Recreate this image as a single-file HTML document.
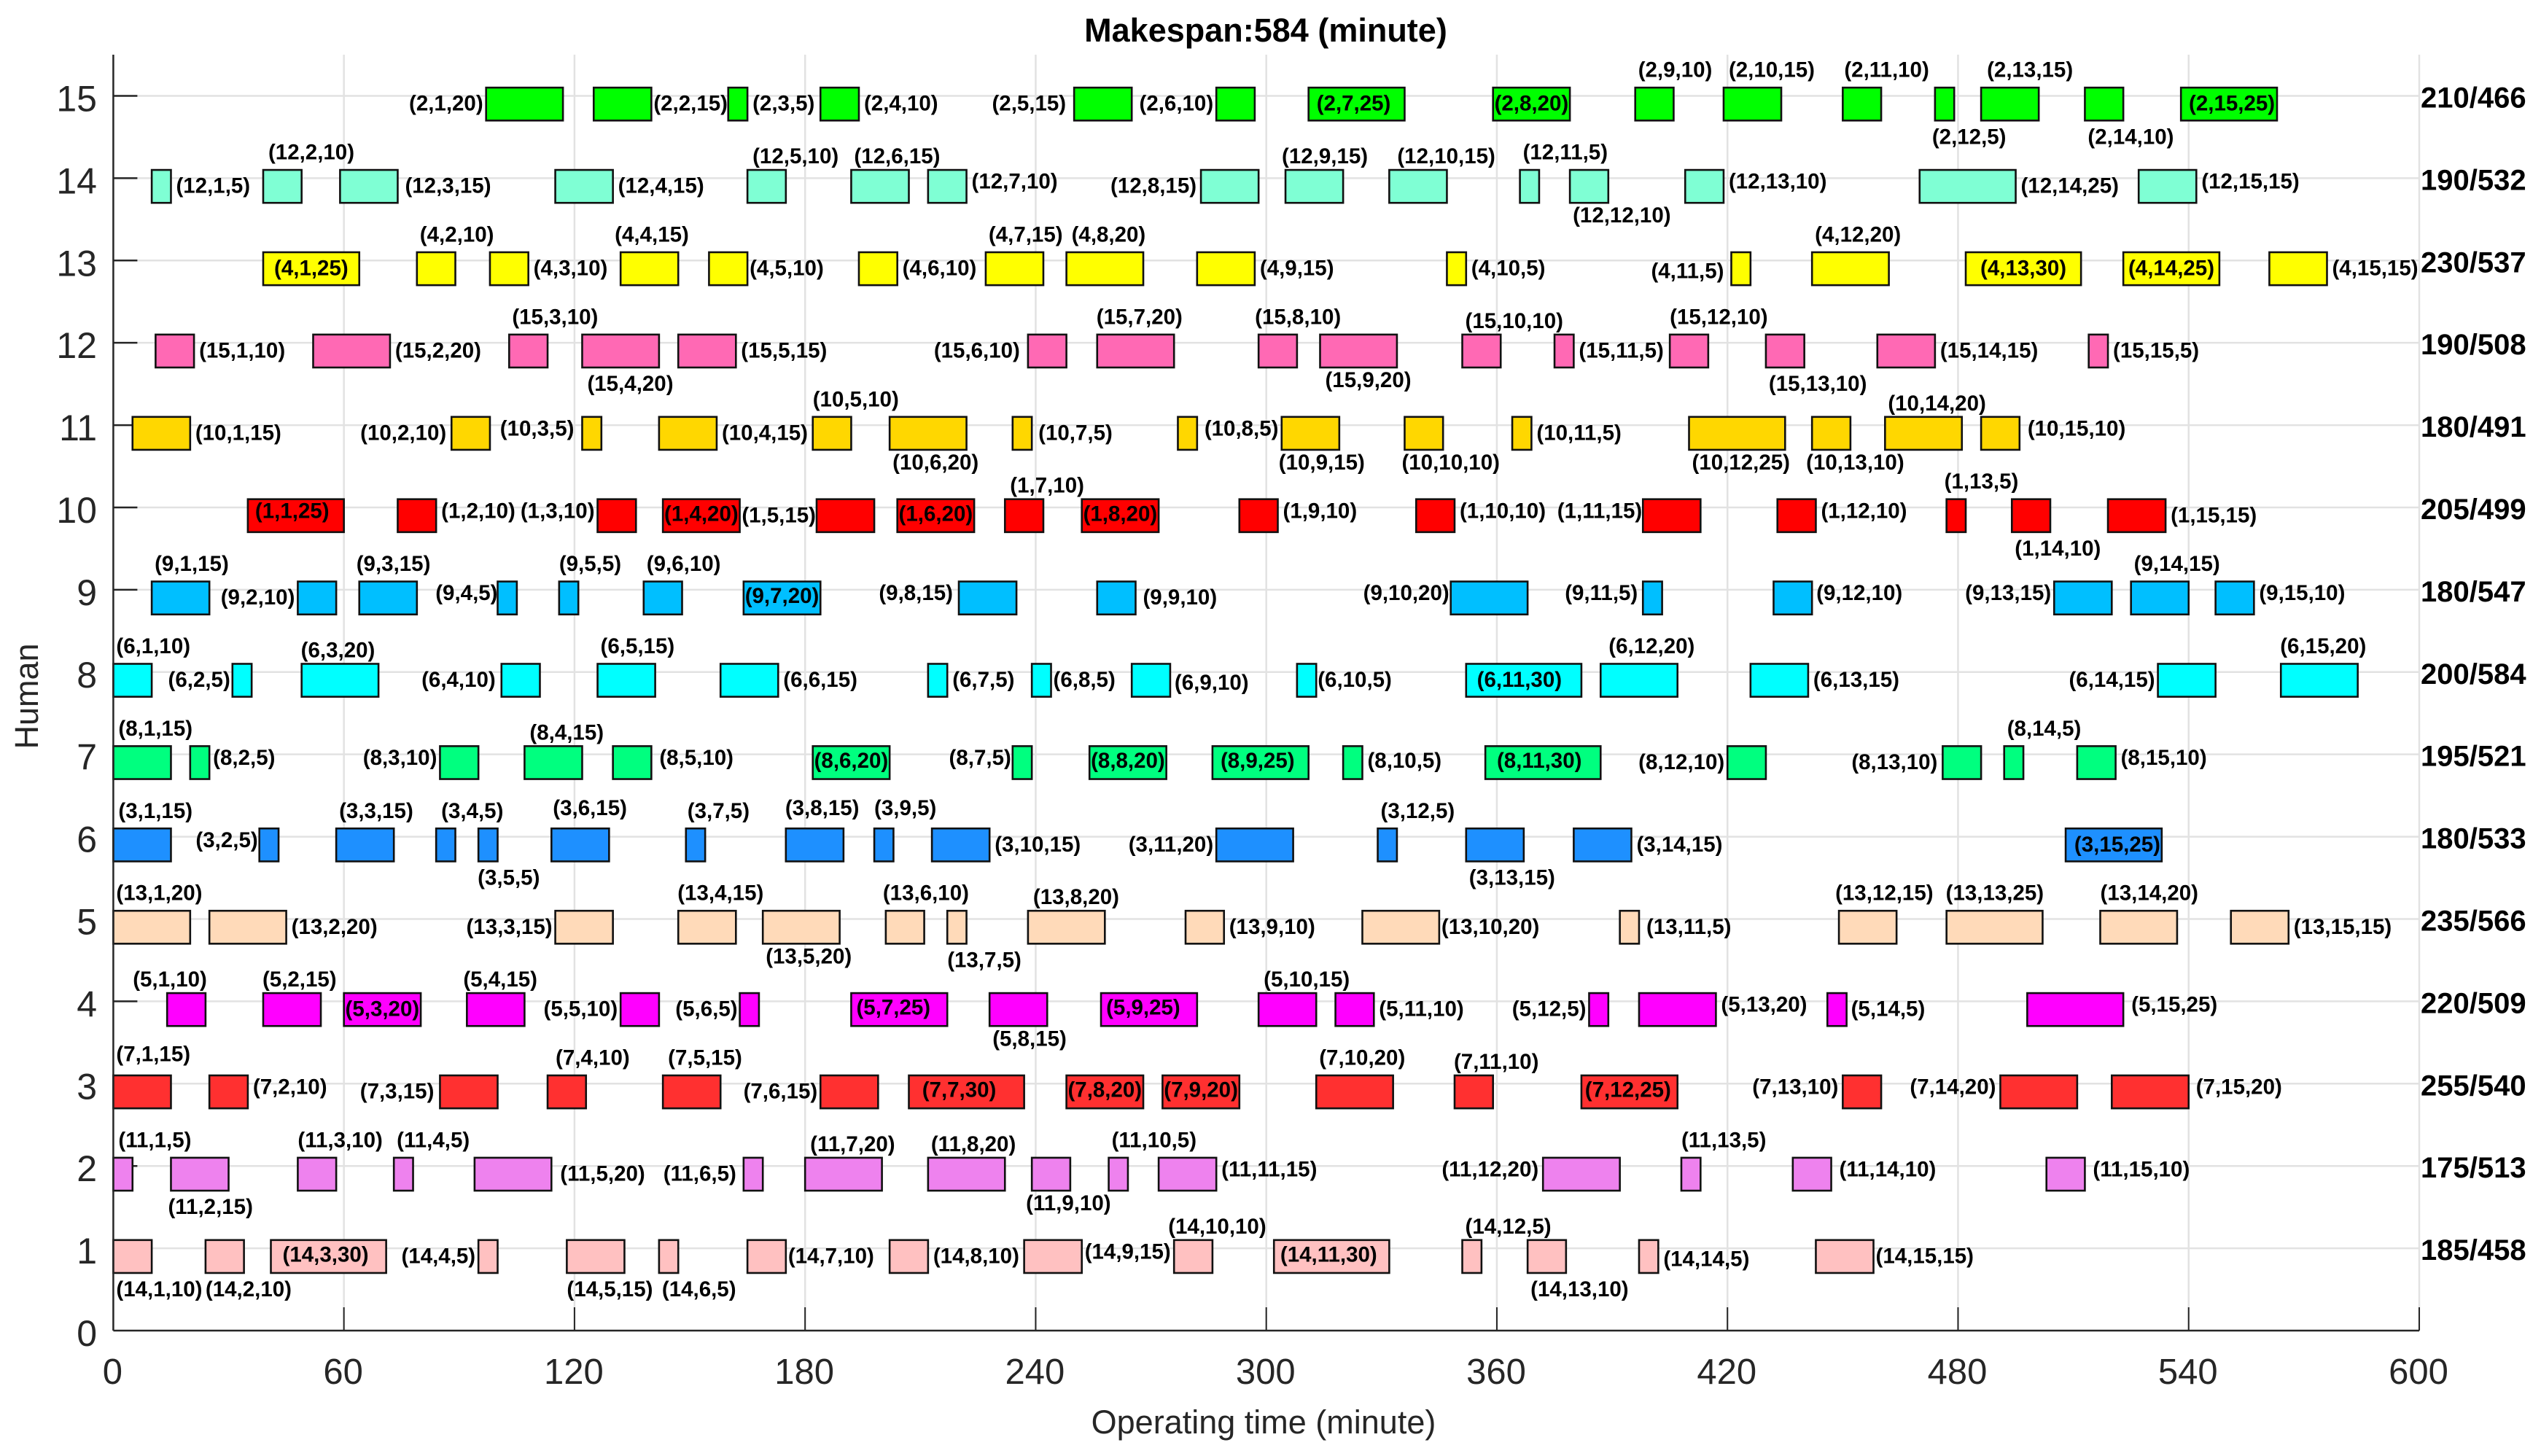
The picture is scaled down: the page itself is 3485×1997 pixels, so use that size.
<!DOCTYPE html>
<html lang="en">
<head>
<meta charset="utf-8">
<title>Makespan Gantt chart</title>
<style>
html,body{margin:0;padding:0;background:#fff;width:3485px;height:1997px;overflow:hidden}
svg{display:block}
text{font-family:"Liberation Sans",Arial,sans-serif}
</style>
</head>
<body>
<svg id="chart" xmlns="http://www.w3.org/2000/svg" width="3485" height="1997" viewBox="0 0 3485 1997">
<rect x="0" y="0" width="3485" height="1997" fill="#ffffff"/>
<g id="grid"></g>
<g id="ticks"></g>
<g id="bars"></g>
<g id="axes"></g>
<g id="labels"></g>
<g id="summary"></g>
<g id="ticklabels"></g>
<text x="1736" y="57" text-anchor="middle" font-size="45" font-weight="bold" fill="#000">Makespan:584 (minute)</text>
<text x="1733" y="1966" text-anchor="middle" font-size="45" fill="#262626">Operating time (minute)</text>
<text transform="translate(52,955) rotate(-90)" text-anchor="middle" font-size="45" fill="#262626">Human</text>
</svg>
<script>
// Row index 0 is y = 1, the bottom row of the chart.
const humanIds = [14, 11, 7, 5, 13, 3, 8, 6, 9, 1, 10, 15, 4, 12, 2];
const rowSummaries = ['185/458','175/513','255/540','220/509','235/566','180/533','195/521','200/584','180/547','205/499','180/491','190/508','230/537','190/532','210/466'];
const rowColors = ['#FFC1C1','#EE82EE','#FF3030','#FF00FF','#FFDAB9','#1E90FF','#00FF7F','#00FFFF','#00BFFF','#FF0000','#FFD700','#FF69B4','#FFFF00','#7FFFD4','#00FF00'];
const startTimes = [
  [0,24,41,95,118,142,165,202,237,276,302,351,368,397,443],
  [0,15,48,73,94,164,180,212,239,259,272,372,408,437,503],
  [0,25,85,113,143,184,207,248,273,313,349,382,450,491,520],
  [14,39,60,92,132,163,192,228,257,298,318,384,397,446,498],
  [0,25,115,147,169,201,217,238,279,325,392,449,477,517,551],
  [0,38,58,84,95,114,149,175,198,213,287,329,352,380,508],
  [0,20,85,107,130,182,234,254,286,320,357,420,476,492,511],
  [0,31,49,101,126,158,212,239,265,308,352,387,426,532,564],
  [10,48,64,100,116,138,164,220,256,348,398,432,505,525,547],
  [35,74,126,143,183,204,232,252,293,339,398,433,477,494,519],
  [5,88,122,142,182,202,234,277,304,336,364,410,442,461,486],
  [11,52,103,122,147,238,256,298,314,351,375,405,430,459,514],
  [39,79,98,132,155,194,227,248,282,347,421,442,482,523,561],
  [10,39,59,115,165,192,212,283,305,332,366,379,409,470,527],
  [97,125,160,184,250,287,311,359,396,419,450,474,486,513,538]
];
const durations = [
  [10,10,30,5,15,5,10,10,15,10,30,5,10,5,15],
  [5,15,10,5,20,5,20,20,10,5,15,20,5,10,10],
  [15,10,15,10,15,15,30,20,20,20,10,25,10,20,20],
  [10,15,20,15,10,5,25,15,25,15,10,5,20,5,25],
  [20,20,15,15,20,10,5,20,10,20,5,15,25,20,15],
  [15,5,15,5,5,15,5,15,5,15,20,5,15,15,25],
  [15,5,10,15,10,20,5,20,25,5,30,10,10,5,10],
  [10,5,20,10,15,15,5,5,10,5,30,20,15,15,20],
  [15,10,15,5,5,10,20,15,10,20,5,10,15,15,10],
  [25,10,10,20,15,20,10,20,10,10,15,10,5,10,15],
  [15,10,5,15,10,20,5,5,15,10,5,25,10,20,10],
  [10,20,10,20,15,10,20,10,20,10,5,10,10,15,5],
  [25,10,10,15,10,10,15,20,15,5,5,20,30,25,15],
  [5,10,15,15,10,15,10,15,15,15,5,10,10,25,15],
  [20,15,5,10,15,10,25,20,10,15,10,5,15,10,25]
];
// Where each label sits beside its bar: side[/nudgeX[/nudgeY]]
const labelPlacement = [
  ['B','B/-4','c/-4/-2','l','B/-4','B','r/-4','r','R/-3','t/-12','c/-4/-2','t','B','r/0/4','r/-4'],
  ['T/3','B/-8','T/-4','T','r/5','l/-6','t/3','t','b/-12','T','R','L/-2','T/-4','R/4','R/4'],
  ['T/0/-5','R','l/-4','T/7','T/3','l','c/-10/-2','c/0/-2','c/0/-2','T','t/-5','c/-2/-2','L/-2','L/-2','R/3'],
  ['t/-51','t/-5','c','t/-9','l','l/1','c/-8/-2','b','c/-8/-2','t/3','r','l','R','r/-1','R/4'],
  ['T','r','l','T/-5','b','T/-8','B/-4','t/3','r','r/-4','r/3','T/-9','T/-5','T/-4','r'],
  ['T/3','L/2','T','T/3','B/-5','T/-2/-4','T/-2','T/-5/-4','T/-4/-4','r','l','T','B','r','c/5'],
  ['T/3','R/-2','L','t/3','R/4','c/0/-2','L/2','c/0/-2','c/-4/-2','r/0/-2','c/-5/-2','l','l/-3','T','R'],
  ['T','l/1','t/-5','l/-4','T','r','r','r/-4','r/-1/4','r/-5','c/-6','T/7','r','l','T/-5'],
  ['T','l','T/-8','L/4','T/-4','T','c/0/-2','L/-4','r/3','L/2','L/-3','R/-1','L','T','R'],
  ['c/-5/-6','R','L','c/0/-2','l/3','c/0/-2','t/3','c/0/-2','R','R','L/3','R','T/-7','B','r'],
  ['r','l/-3','L/-7','r','T/-4','b','r/2','R/3','b/-8','b/-8','r','b','b/-12','t','R/4'],
  ['r','r','T','B/3','r','l/-7','T/-5','T/-9','b/3','t','r','T/-4','B','r','r'],
  ['c','T','r','T/-12','r/-4','r','T','T/3','r','r','l/-6/4','T','c','c','r'],
  ['r','T/3','r/3','r','t/3','t','R','l/-2','t/-9','t/7','T','b','R','r','R'],
  ['l','r/-4','r','r','l/-7','l','c/-4','c','T','T/3','T/-2','B/-8','T/4','B','c/4']
];
const xTickValues = [0, 60, 120, 180, 240, 300, 360, 420, 480, 540, 600];
const yTickValues = [0, 1, 2, 3, 4, 5, 6, 7, 8, 9, 10, 11, 12, 13, 14, 15];
const xDomain = [0, 600];
const yDomain = [0, 15.5];

const plot = { left: 155.4, right: 3318, top: 75, bottom: 1825 };
const SVGNS = 'http://www.w3.org/2000/svg';
function xScale(v) {
  return plot.left + (v - xDomain[0]) / (xDomain[1] - xDomain[0]) * (plot.right - plot.left);
}
function yScale(v) {
  return plot.bottom - (v - yDomain[0]) / (yDomain[1] - yDomain[0]) * (plot.bottom - plot.top);
}
function make(tag, parent, attrs) {
  const el = document.createElementNS(SVGNS, tag);
  for (const k in attrs) el.setAttribute(k, attrs[k]);
  document.getElementById(parent).appendChild(el);
  return el;
}
const gridColor = '#e2e2e2';
const axisColor = '#262626';

xTickValues.forEach(function (v) {
  const x = xScale(v);
  if (v !== 0) {
    const g = make('line', 'grid', { x1: x, x2: x, y1: plot.top, y2: plot.bottom, stroke: gridColor, 'stroke-width': 2.5 });
    
    
    const t = make('line', 'ticks', { x1: x, x2: x, y1: plot.bottom - 32, y2: plot.bottom, stroke: axisColor, 'stroke-width': 2 });
    
    
  }
  const l = make('text', 'ticklabels', { x: x - 1, y: 1898, 'text-anchor': 'middle', 'font-size': 49, fill: axisColor });
  
  
  l.textContent = v;
});
yTickValues.forEach(function (v) {
  const y = yScale(v);
  if (v !== 0) {
    const g = make('line', 'grid', { x1: plot.left, x2: plot.right, y1: y, y2: y, stroke: gridColor, 'stroke-width': 2.5 });
    
    
    const t = make('line', 'ticks', { x1: plot.left, x2: plot.left + 33, y1: y, y2: y, stroke: axisColor, 'stroke-width': 2.5 });
    
    
  }
  const l = make('text', 'ticklabels', { x: 133, y: y + 21, 'text-anchor': 'end', 'font-size': 50, fill: axisColor });
  
  
  l.textContent = v;
});

const yAxisLine = make('line', 'axes', { x1: plot.left, x2: plot.left, y1: plot.top, y2: plot.bottom, stroke: axisColor, 'stroke-width': 2.5 });


const xAxisLine = make('line', 'axes', { x1: plot.left, x2: plot.right, y1: plot.bottom, y2: plot.bottom, stroke: axisColor, 'stroke-width': 2.5 });



const barTopOffset = 0.1;
const barBottomOffset = -0.3;
const labelSize = 29.5;
startTimes.forEach(function (row, r) {
  const rowValue = r + 1;
  const human = humanIds[r];
  row.forEach(function (start, i) {
    const dur = durations[r][i];
    const x0 = xScale(start);
    const x1 = xScale(start + dur);
    const yTop = yScale(rowValue + barTopOffset);
    const yBot = yScale(rowValue + barBottomOffset);
    const rect = make('rect', 'bars', { x: x0, y: yTop, width: x1 - x0, height: yBot - yTop, fill: rowColors[r], stroke: '#111', 'stroke-width': 2.6 });
    
    

    const parts = labelPlacement[r][i].split('/');
    const side = parts[0];
    const dx = Number(parts[1] || 0);
    const dy = Number(parts[2] || 0);
    const mid = (yTop + yBot) / 2;
    let lx, cy, anchor = 'start';
    if (side === 'r' || side === 'R') { lx = x1 + 7; cy = mid - 1; }
    if (side === 'l' || side === 'L') { lx = x0 - 4; cy = mid - 1; anchor = 'end'; }
    if (side === 'R' || side === 'L') { cy -= 6; }
    if (side === 't') { lx = x0 + 4; cy = yTop - 19; }
    if (side === 'T') { lx = x0 + 4; cy = yTop - 24.5; }
    if (side === 'b') { lx = x0 + 4; cy = yBot + 17; }
    if (side === 'B') { lx = x0 + 4; cy = yBot + 22; }
    if (side === 'c') { lx = (x0 + x1) / 2; cy = mid - 1; anchor = 'middle'; }
    const label = make('text', 'labels', { x: lx + dx, y: cy + dy + 10, 'text-anchor': anchor, 'font-size': labelSize, 'font-weight': 'bold', fill: '#000' });
    
    
    label.textContent = '(' + human + ',' + (i + 1) + ',' + dur + ')';
  });
  const s = make('text', 'summary', { x: 3320, y: yScale(rowValue) + 16, 'font-size': 40, 'font-weight': 'bold', fill: '#000' });
  
  
  s.textContent = rowSummaries[r];
});
</script>
</body>
</html>
